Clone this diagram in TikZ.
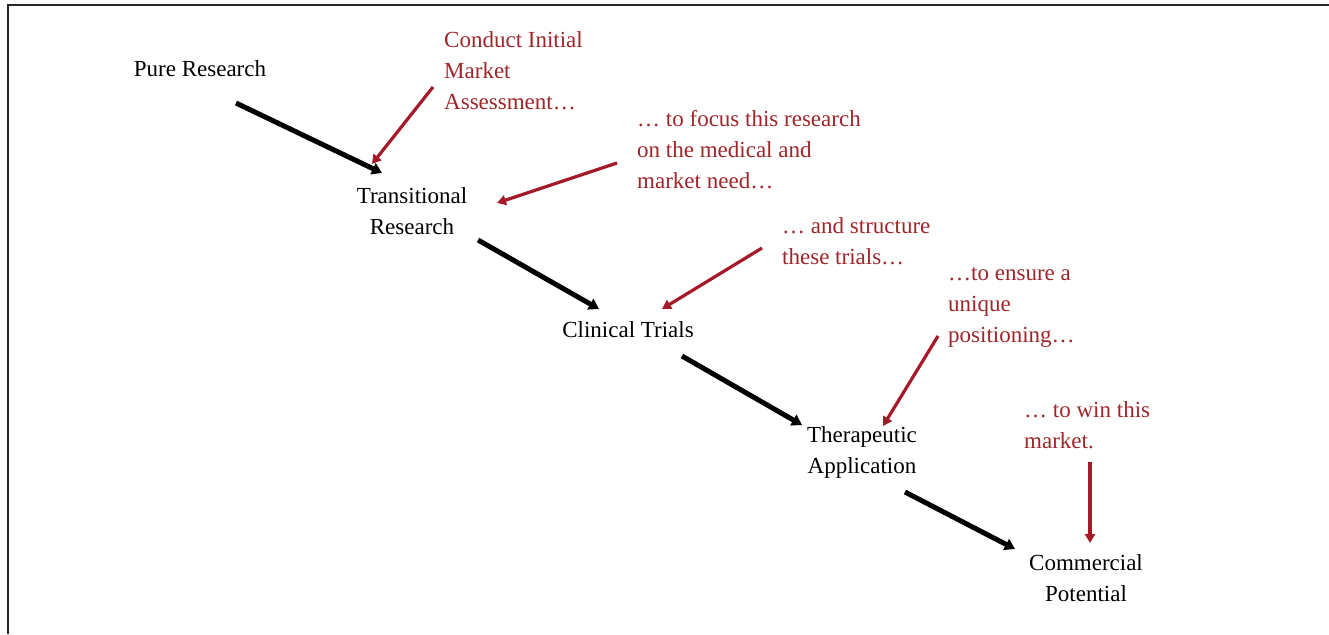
\documentclass[tikz,border=0pt]{standalone}
\usepackage{fontspec}
\setmainfont{Liberation Serif}
\usetikzlibrary{arrows.meta}
\definecolor{dred}{RGB}{165,25,40}
\definecolor{tred}{RGB}{158,38,42}
\tikzset{
  stage/.style={inner sep=0pt, align=center, font=\fontsize{23}{31}\selectfont, text=black},
  note/.style={inner sep=0pt, align=left, font=\fontsize{23}{31}\selectfont, text=tred},
  blk/.style={line width=5pt, -{Triangle[length=10pt,width=12pt]}, black},
  redarr/.style={line width=3.2pt, dred, -{Triangle[length=9pt,width=10pt]}},
  frame/.style={line width=2pt, black!85}
}
\begin{document}
\begin{tikzpicture}[x=1pt,y=-1pt]
\useasboundingbox (0,0) rectangle (1329,634);
\draw[frame] (8,634) -- (8,5) -- (1329,5);

% stages
\node[stage] (pr) at (200,69) {Pure Research};
\node[stage] (tr) at (412,211) {Transitional\\Research};
\node[stage] (ct) at (628,330) {Clinical Trials};
\node[stage] (ta) at (862,452) {Therapeutic\\Application};
\node[stage] (cp) at (1086,578) {Commercial\\Potential};

% notes
\node[note, anchor=west] (n1) at (444,71) {Conduct Initial\\Market\\Assessment…};
\node[note, anchor=west] (n2) at (637,150) {… to focus this research\\on the medical and\\market need…};
\node[note, anchor=west] (n3) at (782,241) {… and structure\\these trials…};
\node[note, anchor=west] (n4) at (948,308) {…to ensure a\\unique\\positioning…};
\node[note, anchor=west] (n5) at (1024,425) {… to win this\\market.};

% connector ends
\coordinate (b1s) at (236,103); \coordinate (b1e) at (382,173);
\coordinate (b2s) at (478,240); \coordinate (b2e) at (599,309);
\coordinate (b3s) at (682,356); \coordinate (b3e) at (802,425);
\coordinate (b4s) at (905,492); \coordinate (b4e) at (1015,549);

\coordinate (r1s) at (433,87);  \coordinate (r1e) at (372,164);
\coordinate (r2s) at (617,163); \coordinate (r2e) at (497,203);
\coordinate (r3s) at (762,248); \coordinate (r3e) at (662,309);
\coordinate (r4s) at (938,336); \coordinate (r4e) at (883,426);
\coordinate (r5s) at (1090,462); \coordinate (r5e) at (1090,543);

\draw[blk] (b1s) -- (b1e);
\draw[blk] (b2s) -- (b2e);
\draw[blk] (b3s) -- (b3e);
\draw[blk] (b4s) -- (b4e);

\draw[redarr] (r1s) -- (r1e);
\draw[redarr] (r2s) -- (r2e);
\draw[redarr] (r3s) -- (r3e);
\draw[redarr] (r4s) -- (r4e);
\draw[redarr] (r5s) -- (r5e);
\end{tikzpicture}
\end{document}
